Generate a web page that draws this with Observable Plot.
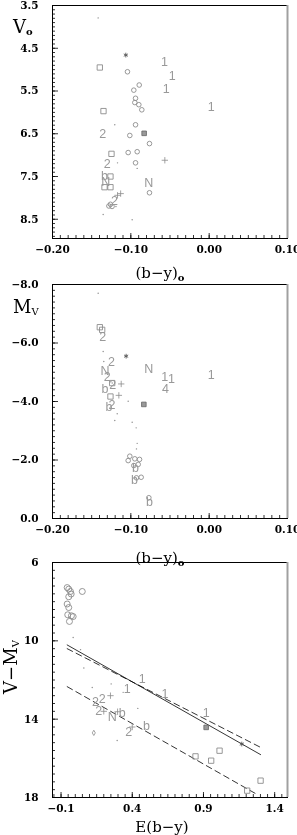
<!DOCTYPE html>
<html><head><meta charset="utf-8">
<script src="https://cdn.jsdelivr.net/npm/d3@7"></script>
<script src="https://cdn.jsdelivr.net/npm/@observablehq/plot@0.6"></script>
<style>
body{margin:0;background:#fff;}
#c{position:relative;width:297px;height:835px;overflow:hidden;background:#fff;}
#c svg{position:absolute;left:0;overflow:visible;background:transparent;will-change:transform;}
</style></head><body><div id="c"></div>
<script>
// ---------- Panel 1: V0 vs (b-y)0 ----------
const p1Circles = [[-0.1043,5.05],[-0.0893,5.36],[-0.0962,5.48],[-0.094,5.67],[-0.0949,5.77],[-0.0898,5.82],[-0.086,5.94],[-0.094,6.29],[-0.1013,6.54],[-0.0762,6.73],[-0.1034,6.94],[-0.0919,6.92],[-0.094,7.18],[-0.0762,7.88],[-0.126,8.15],[-0.128,8.19],[-0.124,8.2]];
const p1Squares = [[-0.1396,4.95],[-0.1349,5.97],[-0.1247,6.97],[-0.126,7.5],[-0.1336,7.75],[-0.126,7.75]];
const p1Labels = [[-0.057,4.81,"1"],[-0.0472,5.14,"1"],[-0.0549,5.46,"1"],[0.0026,5.87,"1"],[-0.1358,6.5,"2"],[-0.130,7.2,"2"],[-0.121,8.08,"2"],[-0.077,7.65,"N"],[-0.132,7.63,"N"],[-0.1336,7.49,"b"]];
const p1Plus = [[-0.0566,7.12],[-0.113,7.9],[-0.117,7.94]];
const p1Star = [[-0.1064,4.66]];
const p1Filled = [[-0.083,6.49]];
const p1Dots = [[-0.1417,3.79],[-0.1205,6.29],[-0.117,7.18],[-0.0919,7.31],[-0.1353,8.39],[-0.0983,8.51],[-0.119,8.2]];

// ---------- Panel 2: Mv vs (b-y)0 ----------
const p2Circles = [[-0.1013,-2.13],[-0.1034,-1.98],[-0.0949,-2.04],[-0.0889,-2.02],[-0.0962,-1.81],[-0.0906,-1.85],[-0.0928,-1.39],[-0.0868,-1.41],[-0.077,-0.71]];
const p2Squares = [[-0.1396,-6.54],[-0.1366,-6.45],[-0.1238,-4.63],[-0.126,-4.17]];
const p2Labels = [[-0.1358,-6.22,"2"],[-0.1247,-5.34,"2"],[-0.077,-5.12,"N"],[-0.133,-5.04,"N"],[-0.130,-4.83,"2"],[-0.0566,-4.83,"1"],[-0.048,-4.78,"1"],[0.0026,-4.89,"1"],[-0.123,-4.55,"2"],[-0.133,-4.43,"b"],[-0.0557,-4.43,"4"],[-0.128,-3.8,"b"],[-0.124,-3.88,"2"],[-0.094,-1.72,"b"],[-0.0953,-1.33,"b"],[-0.0762,-0.56,"b"]];
const p2Plus = [[-0.1123,-4.60],[-0.1153,-4.21]];
const p2Star = [[-0.106,-5.55]];
const p2Filled = [[-0.0834,-3.90]];
const p2Dots = [[-0.1417,-7.70],[-0.1353,-5.71],[-0.1345,-5.37],[-0.1034,-4.01],[-0.1174,-3.58],[-0.1205,-3.35],[-0.0983,-3.29],[-0.0932,-3.10],[-0.0919,-2.57],[-0.0928,-2.38],[-0.1238,-4.63]];

// ---------- Panel 3: V-Mv vs E(b-y) ----------
const p3Circles = [[-0.057,7.28],[-0.046,7.36],[-0.034,7.48],[-0.029,7.61],[0.049,7.48],[-0.046,7.75],[-0.057,8.12],[-0.046,8.30],[-0.053,8.67],[-0.015,8.76],[-0.027,8.72],[-0.041,9.01]];
const p3Squares = [[0.844,15.9],[1.013,15.61],[0.954,16.12],[1.301,17.14],[1.207,17.65]];
const p3Labels = [[0.47,11.95,"1"],[0.365,12.46,"1"],[0.629,12.71,"1"],[0.919,13.68,"1"],[0.142,13.14,"2"],[0.189,12.97,"2"],[0.165,13.57,"2"],[0.376,14.67,"2"],[0.259,13.91,"N"],[0.33,13.7,"b"],[0.5,14.33,"b"]];
const p3Plus = [[0.247,12.8],[0.2,13.6],[0.297,13.62],[0.4,14.4]];
const p3Diamond = [[0.13,14.7]];
const p3Star = [[1.169,15.27]];
const p3Filled = [[0.919,14.42]];
const p3Dots = [[-0.015,9.83],[0.037,10.45],[0.06,11.39],[0.119,12.38],[0.252,12.2],[0.336,12.63],[0.439,13.45],[0.294,15.09]];
const p3Solid = [[-0.057,10.21],[1.301,15.81]];
const p3Dash1 = [[-0.057,10.4],[1.301,15.44]];
const p3Dash2 = [[-0.057,12.34],[1.278,17.85]];

// tick labels
const p1XTicks = [-0.2,-0.1,0.0,0.1];
const p1YTicks = [3.5,4.5,5.5,6.5,7.5,8.5];
const p2YTicks = [-8,-6,-4,-2,0];
const p3XTicks = [-0.1,0.4,0.9,1.4];
const p3YTicks = [6,10,14,18];

const GREY = "#8c8c8c";
const W = 297, ML = 52, MR = 10;
const container = document.getElementById("c");

function range(a, b, step) {
  const out = []; const n = Math.round((b - a) / step);
  for (let i = 0; i <= n; i++) out.push(+(a + i * step).toFixed(6));
  return out;
}

function panel(o) {
  const plotH = o.height - o.mt - o.mb, plotW = W - ML - MR;
  const pts = (arr) => arr.map(([x, y, t]) => ({x, y, t}));
  const marks = [
    Plot.ruleX(o.xMinor, {x: d => d, insetTop: plotH - 3, stroke: "black", strokeWidth: 0.8}),
    Plot.ruleX(o.xMajor, {x: d => d, insetTop: plotH - 5, stroke: "black", strokeWidth: 0.8}),
    Plot.ruleY(o.yMinor, {y: d => d, insetRight: plotW - 3, stroke: "black", strokeWidth: 0.8}),
    Plot.ruleY(o.yMajor, {y: d => d, insetRight: plotW - 6, stroke: "black", strokeWidth: 0.8}),
    Plot.axisX(o.xMajor, {tickSize: 0, tickPadding: 7, tickFormat: o.xFmt, label: null, fontSize: 10.5, fontWeight: "bold", fontFamily: "DejaVu Serif", fill: "black"}),
    Plot.axisY(o.yMajor, {tickSize: 0, tickPadding: 14, tickFormat: o.yFmt, label: null, fontSize: 10.5, fontWeight: "bold", fontFamily: "DejaVu Serif", fill: "black"}),
    ...(o.lines || []),
    Plot.dot(pts(o.dots), {x: "x", y: "y", r: 0.7, fill: GREY, stroke: "none"}),
    Plot.dot(pts(o.circles), {x: "x", y: "y", r: o.cr, stroke: GREY, strokeWidth: 0.9, fill: "none"}),
    Plot.dot(pts(o.squares), {x: "x", y: "y", r: 3, symbol: "square", stroke: GREY, strokeWidth: 0.9, fill: "none"}),
    Plot.dot(pts(o.filled), {x: "x", y: "y", r: 2.6, symbol: "square", stroke: "#666", strokeWidth: 0.8, fill: "#999"}),
    Plot.dot(pts(o.plus), {x: "x", y: "y", r: 2.2, symbol: "plus", stroke: GREY, strokeWidth: 0.8}),
    Plot.dot(pts(o.star), {x: "x", y: "y", r: 2.2, symbol: "asterisk", stroke: "#555", strokeWidth: 0.9}),
    Plot.dot(pts(o.diamond || []), {x: "x", y: "y", r: 1.6, symbol: "diamond", stroke: GREY, strokeWidth: 0.8, fill: "none"}),
    Plot.text(pts(o.labels), {x: "x", y: "y", text: "t", fontSize: 12.5, fontFamily: "Liberation Sans", fill: "#999999"}),
    Plot.frame({stroke: "black", strokeWidth: 1}),
    Plot.ruleX([o.xDomain[1]], {stroke: "#a0a0a0", strokeWidth: 2})
  ];
  const svg = Plot.plot({
    width: W, height: o.height,
    marginLeft: ML, marginRight: MR, marginTop: o.mt, marginBottom: o.mb,
    x: {domain: o.xDomain},
    y: {domain: o.yDomain, reverse: true},
    style: {background: "transparent", overflow: "visible"},
    marks
  });
  svg.style.top = o.top + "px";
  container.appendChild(svg);
  return svg;
}

function addText(svg, x, y, parts, opts = {}) {
  const t = d3.select(svg).append("text")
    .attr("x", x).attr("y", y)
    .attr("font-family", "DejaVu Serif").attr("fill", "black")
    .attr("font-size", opts.size || 15)
    .attr("text-anchor", opts.anchor || "start");
  if (opts.rotate) t.attr("transform", `rotate(-90 ${x} ${y})`);
  for (const p of parts) {
    const s = t.append("tspan").text(p.text);
    if (p.size) s.attr("font-size", p.size);
    if (p.dy) s.attr("dy", p.dy);
    if (p.bold) s.attr("font-weight", "bold");
  }
}

const f2 = d => d === 0 ? "0.00" : d3.format(".2f")(d).replace("-", "−");
const f1 = d => d3.format(".1f")(d).replace("-", "−");

const s1 = panel({
  top: 0, height: 290, mt: 5, mb: 52,
  xDomain: [-0.2, 0.1], yDomain: [3.5, 8.95],
  xMajor: p1XTicks, xMinor: range(-0.2, 0.1, 0.01),
  yMajor: p1YTicks, yMinor: range(3.5, 8.9, 0.1),
  xFmt: f2, yFmt: f1, cr: 2.3,
  circles: p1Circles, squares: p1Squares, labels: p1Labels, plus: p1Plus,
  star: p1Star, filled: p1Filled, dots: p1Dots
});
addText(s1, 160, 278, [{text: "(b−y)"}, {text: "o", size: 10, dy: 3, bold: true}], {anchor: "middle", size: 15});
addText(s1, 13, 33, [{text: "V"}, {text: "o", size: 10, dy: 2, bold: true}], {size: 18});

const s2 = panel({
  top: 278, height: 290, mt: 6, mb: 50,
  xDomain: [-0.2, 0.1], yDomain: [-8, 0],
  xMajor: p1XTicks, xMinor: range(-0.2, 0.1, 0.01),
  yMajor: p2YTicks, yMinor: range(-8, 0, 0.2),
  xFmt: f2, yFmt: f1, cr: 2.3,
  circles: p2Circles, squares: p2Squares, labels: p2Labels, plus: p2Plus,
  star: p2Star, filled: p2Filled, dots: p2Dots
});
addText(s2, 160, 285, [{text: "(b−y)"}, {text: "o", size: 10, dy: 3, bold: true}], {anchor: "middle", size: 15});
addText(s2, 13, 35, [{text: "M"}, {text: "V", size: 10, dy: 2}], {size: 18});

const lineData = (arr) => arr.map(([x, y]) => ({x, y}));
const s3 = panel({
  top: 552, height: 283, mt: 10, mb: 38,
  xDomain: [-0.16, 1.49], yDomain: [6, 18],
  xMajor: p3XTicks, xMinor: range(-0.15, 1.45, 0.05),
  yMajor: p3YTicks, yMinor: range(6, 18, 0.4),
  xFmt: d => d3.format(".1f")(d).replace("-", "−"), yFmt: d => String(d), cr: 3,
  circles: p3Circles, squares: p3Squares, labels: p3Labels, plus: p3Plus,
  star: p3Star, filled: p3Filled, dots: p3Dots, diamond: p3Diamond,
  lines: [
    Plot.line(lineData(p3Solid), {x: "x", y: "y", stroke: "black", strokeWidth: 0.8}),
    Plot.line(lineData(p3Dash1), {x: "x", y: "y", stroke: "black", strokeWidth: 0.8, strokeDasharray: "6,4"}),
    Plot.line(lineData(p3Dash2), {x: "x", y: "y", stroke: "black", strokeWidth: 0.8, strokeDasharray: "6,4"})
  ]
});
addText(s3, 162, 280, [{text: "E(b−y)"}], {anchor: "middle", size: 15});
addText(s3, 17, 115, [{text: "V−M"}, {text: "V", size: 10, dy: 2}], {size: 18, rotate: true, anchor: "middle"});
</script></body></html>
